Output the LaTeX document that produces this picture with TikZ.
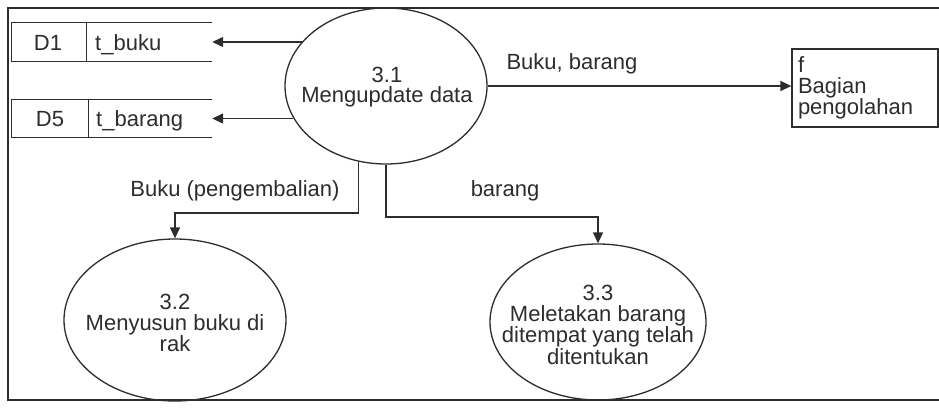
\documentclass[tikz,border=0pt]{standalone}
\usepackage{fontspec}
\setmainfont{Liberation Sans}
\usetikzlibrary{arrows.meta,calc,shapes.geometric}
\definecolor{ink}{RGB}{45,45,45}
\definecolor{txt}{RGB}{45,45,45}
\begin{document}
\begin{tikzpicture}[x=1pt,y=-1pt,
  every node/.style={text=txt, font=\fontsize{22}{20.5}\selectfont},
  flow/.style={draw=ink, line width=1.3pt, -{Triangle[length=11pt,width=10pt]}},
  proc/.style={ellipse, draw=ink, line width=1.3pt, inner sep=0pt},
  proctext/.style={inner sep=0pt, align=center},
  storearea/.style={minimum width=200pt, minimum height=38pt, inner sep=0pt},
  storeline/.style={draw=ink, line width=1.3pt},
  lbl/.style={inner sep=0pt},
]
\clip (0,0) rectangle (939,410);
\fill[white] (0,0) rectangle (939,410);

% outer frame (open to the right)
\draw[line width=1.8pt, draw=ink] (950,8) -- (8,8) -- (8,400) -- (950,400);

% data stores
\node[storearea] (d1) at (112,42) {};
\draw[storeline] (d1.north east) -- (d1.north west) -- (d1.south west) -- (d1.south east);
\draw[storeline] ($(d1.north west)+(75,0)$) -- ($(d1.south west)+(75,0)$);
\node[lbl, anchor=base] (d1id) at (48,50) {D1};
\node[lbl, anchor=base west] (d1name) at (95,50) {t\_buku};

\node[storearea] (d5) at (112,118.5) {};
\draw[storeline] (d5.north east) -- (d5.north west) -- (d5.south west) -- (d5.south east);
\draw[storeline] ($(d5.north west)+(77,0)$) -- ($(d5.south west)+(77,0)$);
\node[lbl, anchor=base] (d5id) at (50,126.5) {D5};
\node[lbl, anchor=base west] (d5name) at (96,126.5) {t\_barang};

% processes
\node[proc, minimum width=202pt, minimum height=156pt] (p31) at (386,86) {};
\node[proctext] (p31t) at (387,87) {3.1\\Mengupdate data};
\node[proc, minimum width=222pt, minimum height=162pt] (p32) at (175,320) {};
\node[proctext] (p32t) at (175,323) {3.2\\Menyusun buku di\\rak};
\node[proc, minimum width=216pt, minimum height=156pt] (p33) at (598,322) {};
\node[proctext] (p33t) at (598,325) {3.3\\Meletakan barang\\ditempat yang telah\\ditentukan};

% external entity
\node[draw=ink, line width=1.3pt, minimum width=146pt, minimum height=78pt,
      text width=134pt, inner sep=6pt, align=left] (f) at (865,88) {f\\Bagian\\pengolahan};

% data flows
\draw[flow] (p31.152 |- d1.east) -- (d1.east);
\draw[flow] (p31.199 |- d5.east) -- (d5.east);
\draw[flow] (p31.east) -- (p31.east -| f.west);
\coordinate (k1) at (359,213);
\coordinate (k2) at (386,217);
\draw[flow] (p31.250) -- (p31.250 |- k1) -| (p32.north);
\draw[flow] (p31.south) -- (p31.south |- k2) -| (p33.north);

% flow labels
\node[lbl, anchor=base] (lbb) at (572,69) {Buku, barang};
\node[lbl, anchor=base] (lbp) at (235,196) {Buku (pengembalian)};
\node[lbl, anchor=base] (lb) at (505,196) {barang};
\end{tikzpicture}
\end{document}
